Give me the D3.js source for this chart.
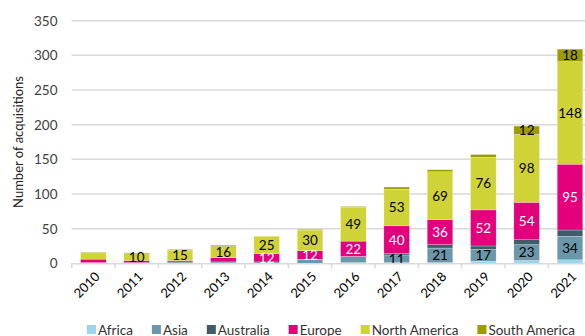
<!DOCTYPE html>
<html><head><meta charset="utf-8">
<script src="https://cdn.jsdelivr.net/npm/d3@7/dist/d3.min.js"></script>
<style>body{margin:0;background:#fff}svg{display:block;font-family:Lato,"Open Sans",sans-serif}</style>
</head><body><svg id="c" width="585" height="336"></svg>
<script>
const years = ["2010","2011","2012","2013","2014","2015","2016","2017","2018","2019","2020","2021"];
const regions = ["Africa","Asia","Australia","Europe","North America","South America"];
const africa       = [0, 0, 0, 0, 0, 0, 1, 1, 1, 3, 4, 5];
const asia         = [1, 1, 1, 1, 2, 5, 9, 11, 21, 17, 23, 34];
const australia    = [0, 0, 1, 1, 0, 1, 0, 2, 5, 5, 7, 9];
const europe       = [5, 3, 2, 6, 12, 12, 22, 40, 36, 52, 54, 95];
const northAmerica = [9, 10, 15, 16, 25, 30, 49, 53, 69, 76, 98, 148];
const southAmerica = [1, 1, 1, 2, 0, 1, 1, 3, 3, 4, 12, 18];
const yTicks = [0, 50, 100, 150, 200, 250, 300, 350];
const colors = ["#9dd4ee","#6b97ab","#3e5d69","#e4007c","#d0d335","#9c9b00"];
const labelColors = ["#000","#000","#fff","#fff","#000","#000"];

const series = [africa, asia, australia, europe, northAmerica, southAmerica];
const rows = years.map((y,i)=>{const r={year:y}; regions.forEach((k,j)=>r[k]=series[j][i]); return r;});
const stack = d3.stack().keys(regions)(rows);

const svg = d3.select("#c");
const pLeft = 71.7, pTop = 20.7, pBottom = 263.3;
const x = d3.scaleBand().domain(years).range([pLeft, pLeft + 43.33*12]).padding(0);
const y = d3.scaleLinear().domain([0,350]).range([pBottom, pTop]);
const bw = x.bandwidth()*0.59;

// gridlines
svg.append("g").selectAll("line").data(yTicks.filter(d=>d>0)).join("line")
  .attr("x1", pLeft).attr("x2", 585).attr("y1", d=>y(d)).attr("y2", d=>y(d))
  .attr("stroke","#d9d9d9").attr("stroke-width",1.5);

// y tick labels
svg.append("g").selectAll("text").data(yTicks).join("text")
  .attr("x", 57.5).attr("y", d=>y(d)).attr("dy","0.36em").attr("text-anchor","end")
  .attr("font-size",13.5).attr("fill","#404040").text(d=>d);

// y title
svg.append("text").attr("transform",`translate(18,${(pTop+pBottom)/2}) rotate(-90)`)
  .attr("text-anchor","middle").attr("dy","0.35em").attr("font-size",13).attr("fill","#222")
  .text("Number of acquisitions");

// bars
const g = svg.append("g");
stack.forEach((s,j)=>{
  g.append("g").selectAll("rect").data(s).join("rect")
    .attr("x", d=>x(d.data.year)+(x.bandwidth()-bw)/2).attr("width", bw)
    .attr("y", d=>y(d[1])).attr("height", d=>y(d[0])-y(d[1]))
    .attr("fill", colors[j]).attr("stroke","#fff").attr("stroke-width",0.4).attr("stroke-opacity",0.6);
});

// x axis line and ticks
svg.append("line").attr("x1",pLeft).attr("x2",585).attr("y1",pBottom+0.5).attr("y2",pBottom+0.5)
  .attr("stroke","#d9d9d9").attr("stroke-width",1.5);
svg.append("g").selectAll("line").data(d3.range(13)).join("line")
  .attr("x1", i=>pLeft+i*x.step()).attr("x2", i=>pLeft+i*x.step())
  .attr("y1", pBottom).attr("y2", pBottom+5).attr("stroke","#d9d9d9").attr("stroke-width",1.5);

// labels
stack.forEach((s,j)=>{
  g.append("g").selectAll("text").data(s.filter(d=>d[1]-d[0]>=10)).join("text")
    .attr("x", d=>x(d.data.year)+x.bandwidth()/2)
    .attr("y", d=>(y(d[0])+y(d[1]))/2).attr("dy","0.36em").attr("text-anchor","middle")
    .attr("font-size",13.5).attr("fill",labelColors[j]).text(d=>d[1]-d[0]);
});

// x tick labels
svg.append("g").selectAll("text").data(years).join("text")
  .attr("transform", d=>`translate(${x(d)+x.bandwidth()/2+4},${pBottom+11}) rotate(-45)`)
  .attr("text-anchor","end").attr("dy","0.35em").attr("font-size",13).attr("fill","#000").text(d=>d);

// legend
const lg = svg.append("g");
let lx = 87;
regions.forEach((r,j)=>{
  lg.append("rect").attr("x",lx).attr("y",325).attr("width",9).attr("height",9).attr("fill",colors[j]);
  const t = lg.append("text").attr("x",lx+11).attr("y",335).attr("font-size",13.5).attr("fill","#333").text(r);
  lx += 11 + t.node().getComputedTextLength() + 19;
});
</script></body></html>
